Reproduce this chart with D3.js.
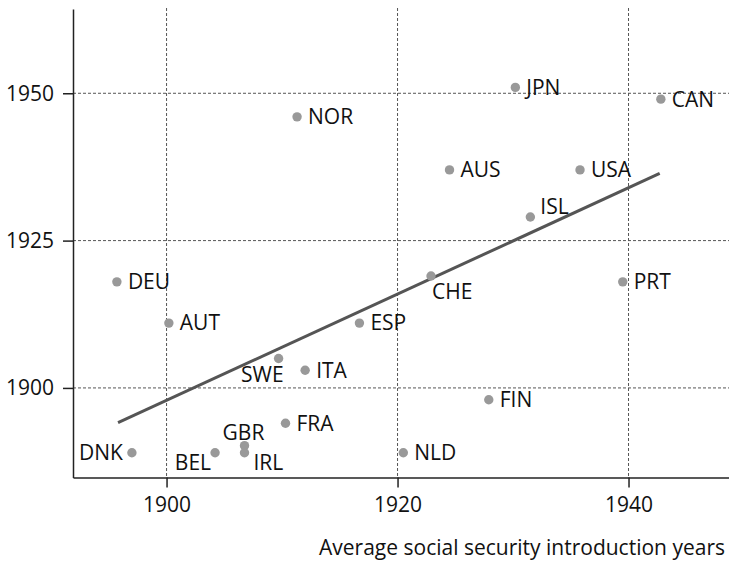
<!DOCTYPE html>
<html>
<head>
<meta charset="utf-8">
<script src="https://cdn.jsdelivr.net/npm/d3@7"></script>
<style>
  body { margin: 0; background: #fff; }
  text { font-family: "Open Sans", "Noto Sans", sans-serif; fill: #111; }
</style>
</head>
<body>
<div id="chart"></div>
<script>
'use strict';

// country codes and their two years
let countries = ['DEU', 'AUT', 'DNK', 'BEL', 'GBR', 'IRL', 'FRA', 'SWE', 'ITA', 'ESP',
                 'NOR', 'NLD', 'CHE', 'AUS', 'FIN', 'JPN', 'ISL', 'USA', 'PRT', 'CAN'];
let avgIntroYears = [1895.7, 1900.2, 1897.0, 1904.2, 1906.75, 1906.75, 1910.3, 1909.7, 1912.0, 1916.7,
                     1911.3, 1920.5, 1922.9, 1924.5, 1927.9, 1930.2, 1931.5, 1935.8, 1939.5, 1942.8];
let otherYears = [1918, 1911, 1889, 1889, 1890.2, 1889, 1894, 1905, 1903, 1911,
                  1946, 1889, 1919, 1937, 1898, 1951, 1929, 1937, 1918, 1949];
let trendX = [1895.8, 1942.7];
let trendY = [1894.1, 1936.4];
let xTicks = [1900, 1920, 1940];
let yTicks = [1900, 1925, 1950];
let xTitle = 'Average social security introduction years';

// where each label sits relative to its dot
let labelPos = {
  DNK: { dx: -9, dy: 0, anchor: 'end' },
  BEL: { dx: -4, dy: 10, anchor: 'end' },
  GBR: { dx: -1, dy: -13, anchor: 'middle' },
  IRL: { dx: 9, dy: 9.5, anchor: 'start' },
  SWE: { dx: 5, dy: 16.5, anchor: 'end' },
  CHE: { dx: 1, dy: 15.5, anchor: 'start' },
  ISL: { dx: 10, dy: -10, anchor: 'start' }
};
let defaultPos = { dx: 11, dy: 0, anchor: 'start' };

let w = 729, h = 561, fs = 21,
    mLeft = 73, mRight = 729, mTop = 9, mBottom = 477.5;

let svg = d3.select('#chart').append('svg').attr('width', w).attr('height', h);

let x = d3.scaleLinear().domain([1891.9, 1948.7]).range([mLeft, mRight]);
let y = d3.scaleLinear().domain([1884.8, 1964.3]).range([mBottom, mTop]);

// dashed grid
svg.append('g').selectAll('line').data(xTicks).enter().append('line')
  .attr('x1', d => x(d)).attr('x2', d => x(d))
  .attr('y1', mTop - 1).attr('y2', mBottom)
  .attr('stroke', '#555').attr('stroke-width', 1).attr('stroke-dasharray', '3,2');
svg.append('g').selectAll('line').data(yTicks).enter().append('line')
  .attr('x1', mLeft).attr('x2', mRight)
  .attr('y1', d => y(d)).attr('y2', d => y(d))
  .attr('stroke', '#555').attr('stroke-width', 1).attr('stroke-dasharray', '3,2');

// axes
let xAxis = svg.append('g').attr('transform', 'translate(0,' + mBottom + ')')
  .call(d3.axisBottom(x).tickValues(xTicks).tickFormat(d3.format('d')).tickSize(10).tickPadding(10).tickSizeOuter(0));
let yAxis = svg.append('g').attr('transform', 'translate(' + mLeft + ',0)')
  .call(d3.axisLeft(y).tickValues(yTicks).tickFormat(d3.format('d')).tickSize(10).tickPadding(9).tickSizeOuter(0));
[xAxis, yAxis].forEach(function(a) {
  a.select('.domain').attr('stroke', '#222').attr('stroke-width', 1.5);
  a.selectAll('.tick line').attr('stroke', '#222').attr('stroke-width', 1.5);
  a.selectAll('.tick text').attr('font-size', fs).attr('font-family', '"Open Sans", sans-serif').attr('fill', '#111');
});

svg.append('text').attr('x', 725).attr('y', 548).attr('dy', '0.35em')
  .attr('text-anchor', 'end').attr('font-size', fs).text(xTitle);

// trend line
svg.append('line')
  .attr('x1', x(trendX[0])).attr('y1', y(trendY[0]))
  .attr('x2', x(trendX[1])).attr('y2', y(trendY[1]))
  .attr('stroke', '#555').attr('stroke-width', 3);

// points
let pts = countries.map(function(c, i) { return { c: c, x: avgIntroYears[i], y: otherYears[i] }; });
svg.append('g').selectAll('circle').data(pts).enter().append('circle')
  .attr('cx', d => x(d.x)).attr('cy', d => y(d.y)).attr('r', 4.7).attr('fill', '#999');

svg.append('g').selectAll('text').data(pts).enter().append('text')
  .attr('x', d => x(d.x) + (labelPos[d.c] || defaultPos).dx)
  .attr('y', d => y(d.y) + (labelPos[d.c] || defaultPos).dy)
  .attr('dy', '0.35em')
  .attr('text-anchor', d => (labelPos[d.c] || defaultPos).anchor)
  .attr('font-size', fs)
  .text(d => d.c);
</script>
</body>
</html>
